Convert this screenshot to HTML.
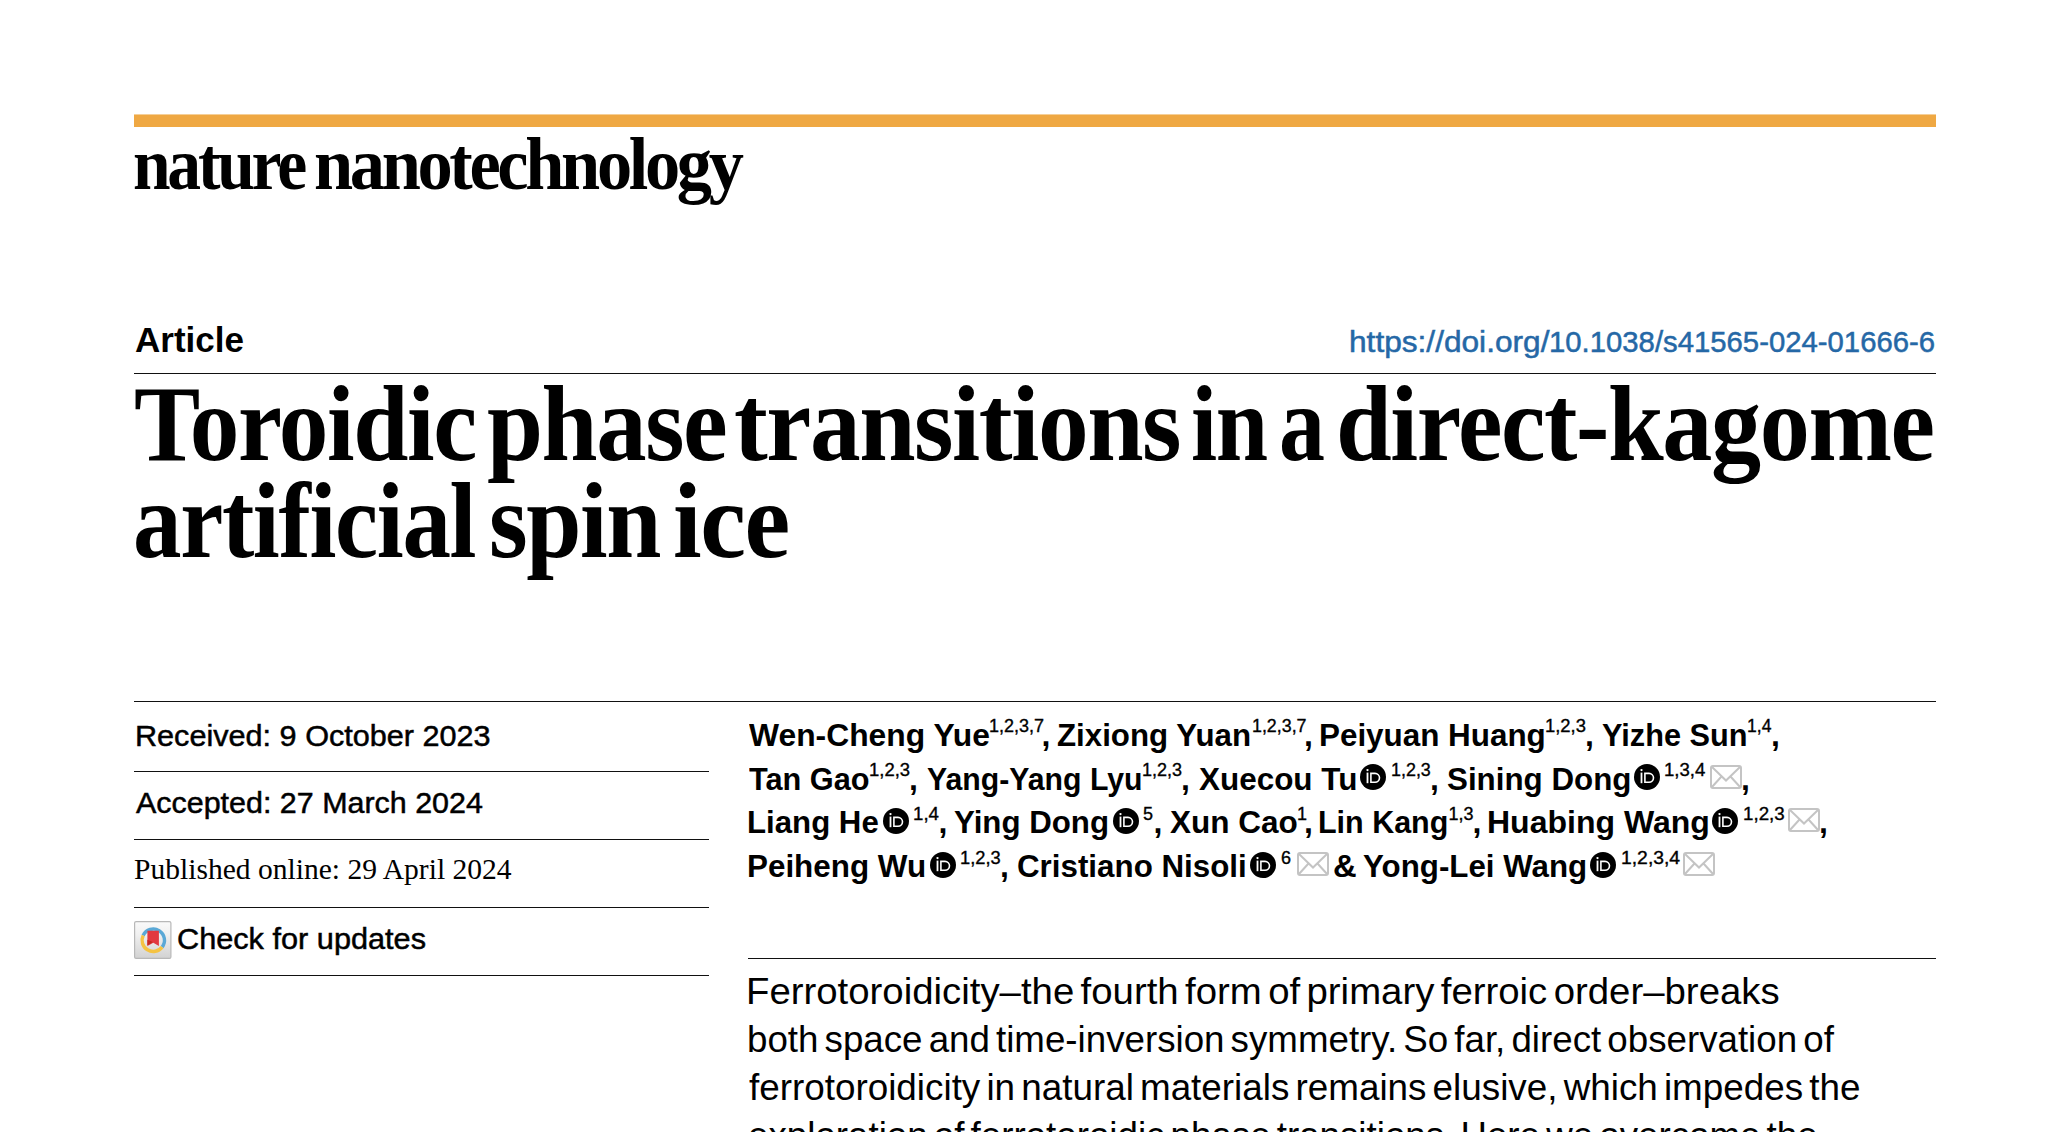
<!DOCTYPE html>
<html>
<head>
<meta charset="utf-8">
<style>
html,body{margin:0;padding:0;background:#fff;}
body{width:2048px;height:1132px;position:relative;overflow:hidden;color:#000;font-family:"Liberation Sans",sans-serif;}
.t{position:absolute;white-space:nowrap;line-height:1;transform-origin:0 0;}
.ic{position:absolute;display:block;}
.rule{position:absolute;height:1px;background:#111;}
#bar{position:absolute;left:134px;top:114px;width:1802px;height:13px;background:linear-gradient(to bottom,#f5cf98 0,#f5cf98 1px,#efa843 1px);}
#chkbox{position:absolute;left:134px;top:921px;width:38px;height:38px;}
</style>
</head>
<body>
<div id="bar"></div>
<div class="rule" style="left:134px;top:373px;width:1802px;"></div>
<div class="rule" style="left:134px;top:701px;width:1802px;"></div>
<div class="rule" style="left:134px;top:771px;width:575px;"></div>
<div class="rule" style="left:134px;top:839px;width:575px;"></div>
<div class="rule" style="left:134px;top:907px;width:575px;"></div>
<div class="rule" style="left:134px;top:975px;width:575px;"></div>
<div class="rule" style="left:748px;top:958px;width:1188px;"></div>
<div id="chkbox"><svg width="38" height="38" viewBox="0 0 38 38" style="position:absolute;left:0;top:0">
<defs><linearGradient id="gg" x1="0" y1="0" x2="0" y2="1"><stop offset="0" stop-color="#fafafa"/><stop offset="0.35" stop-color="#f0f0f0"/><stop offset="1" stop-color="#d2d2d2"/></linearGradient></defs>
<rect x="0.6" y="0.6" width="36.3" height="36.8" rx="1.5" fill="url(#gg)" stroke="#b8b8b8" stroke-width="1.2"/>
<path d="M9.15 14.46 A11.2 11.2 0 1 1 28.13 26.1" fill="none" stroke="#5aa8d6" stroke-width="3.4"/>
<path d="M28.13 26.1 A11.2 11.2 0 0 1 9.15 14.46" fill="none" stroke="#f5c342" stroke-width="3.4"/>
<path d="M13.4 9.8 H24.9 V25 L19.3 21.8 L13.4 25 Z" fill="#e2393f"/>
<path d="M13.4 18.7 L18.7 21 L13.4 24.4 Z" fill="#c4281f"/>
</svg></div>
<div class="t" style="font:bold 74px 'Liberation Serif';letter-spacing:-3.5px;left:133.17px;top:122.00px;transform:scaleX(0.9128);">nature</div>
<div class="t" style="font:bold 74px 'Liberation Serif';letter-spacing:-3.5px;left:314.10px;top:122.00px;transform:scaleX(0.9510);">nanotechnology</div>
<div class="t" style="font:bold 35px 'Liberation Sans';left:135.00px;top:320.00px;">Article</div>
<div class="t" style="font:30px 'Liberation Sans';-webkit-text-stroke:0.5px currentColor;left:1348.89px;top:325.00px;transform:scaleX(1.0543);color:#2568a6;">https://doi.org/</div>
<div class="t" style="font:30px 'Liberation Sans';-webkit-text-stroke:0.5px currentColor;left:1549.25px;top:325.00px;transform:scaleX(0.9766);color:#2568a6;">10.1038/s41565-024-01666-6</div>
<div class="t" style="font:bold 107px 'Liberation Serif';letter-spacing:-1.5px;left:134.15px;top:363.00px;transform:scaleX(0.9274);">Toroidic</div>
<div class="t" style="font:bold 107px 'Liberation Serif';letter-spacing:-1.5px;left:486.56px;top:363.00px;transform:scaleX(0.9413);">phase</div>
<div class="t" style="font:bold 107px 'Liberation Serif';letter-spacing:-1.5px;left:734.11px;top:363.00px;transform:scaleX(0.9472);">transitions</div>
<div class="t" style="font:bold 107px 'Liberation Serif';letter-spacing:-1.5px;left:1190.94px;top:363.00px;transform:scaleX(0.8798);">in</div>
<div class="t" style="font:bold 107px 'Liberation Serif';letter-spacing:-1.5px;left:1278.72px;top:363.00px;transform:scaleX(0.8592);">a</div>
<div class="t" style="font:bold 107px 'Liberation Serif';letter-spacing:-1.5px;left:1335.55px;top:363.00px;transform:scaleX(0.9363);">direct-kagome</div>
<div class="t" style="font:bold 107px 'Liberation Serif';letter-spacing:-1.5px;left:133.28px;top:460.00px;transform:scaleX(0.9072);">artificial</div>
<div class="t" style="font:bold 107px 'Liberation Serif';letter-spacing:-1.5px;left:488.52px;top:460.00px;transform:scaleX(0.9280);">spin</div>
<div class="t" style="font:bold 107px 'Liberation Serif';letter-spacing:-1.5px;left:673.37px;top:460.00px;transform:scaleX(0.9632);">ice</div>
<div class="t" style="font:30px 'Liberation Sans';-webkit-text-stroke:0.5px currentColor;left:134.96px;top:718.50px;transform:scaleX(1.0202);">Received: 9 October 2023</div>
<div class="t" style="font:30px 'Liberation Sans';-webkit-text-stroke:0.5px currentColor;left:136.00px;top:786.40px;transform:scaleX(1.0146);">Accepted: 27 March 2024</div>
<div class="t" style="font:29px 'Liberation Serif';left:133.98px;top:853.40px;transform:scaleX(1.0190);">Published online: 29 April 2024</div>
<div class="t" style="font:30px 'Liberation Sans';-webkit-text-stroke:0.5px currentColor;left:176.98px;top:922.20px;transform:scaleX(1.0227);">Check for updates</div>
<div class="t" style="font:36px 'Liberation Sans';word-spacing:-4px;left:745.80px;top:970.70px;transform:scaleX(1.0652);">Ferrotoroidicity–the fourth form of primary ferroic order–breaks</div>
<div class="t" style="font:36px 'Liberation Sans';word-spacing:-4px;left:746.96px;top:1018.50px;transform:scaleX(1.0197);">both space and time-inversion symmetry. So far, direct observation of</div>
<div class="t" style="font:36px 'Liberation Sans';word-spacing:-4px;left:749.00px;top:1067.20px;transform:scaleX(1.0230);">ferrotoroidicity in natural materials remains elusive, which impedes the</div>
<div class="t" style="font:36px 'Liberation Sans';word-spacing:-4px;left:747.98px;top:1115.30px;transform:scaleX(1.0201);">exploration of ferrotoroidic phase transitions. Here we overcome the</div>
<div class="t" style="font:bold 32px 'Liberation Sans';left:749.00px;top:716.50px;transform:scaleX(0.9942);">Wen-Cheng Yue</div>
<div class="t" style="font:18px 'Liberation Sans';-webkit-text-stroke:0.35px currentColor;left:989.00px;top:715.70px;">1,2,3,7</div>
<div class="t" style="font:bold 32px 'Liberation Sans';left:1041.50px;top:716.50px;">,</div>
<div class="t" style="font:bold 32px 'Liberation Sans';left:1057.02px;top:716.50px;transform:scaleX(0.9770);">Zixiong Yuan</div>
<div class="t" style="font:18px 'Liberation Sans';-webkit-text-stroke:0.35px currentColor;left:1251.51px;top:715.70px;transform:scaleX(0.9907);">1,2,3,7</div>
<div class="t" style="font:bold 32px 'Liberation Sans';left:1304.00px;top:716.50px;">,</div>
<div class="t" style="font:bold 32px 'Liberation Sans';left:1319.34px;top:716.50px;transform:scaleX(0.9811);">Peiyuan Huang</div>
<div class="t" style="font:18px 'Liberation Sans';-webkit-text-stroke:0.35px currentColor;left:1544.58px;top:715.70px;transform:scaleX(1.0231);">1,2,3</div>
<div class="t" style="font:bold 32px 'Liberation Sans';left:1585.00px;top:716.50px;">,</div>
<div class="t" style="font:bold 32px 'Liberation Sans';left:1601.74px;top:716.50px;transform:scaleX(0.9591);">Yizhe Sun</div>
<div class="t" style="font:18px 'Liberation Sans';-webkit-text-stroke:0.35px currentColor;left:1747.03px;top:715.70px;transform:scaleX(0.9750);">1,4</div>
<div class="t" style="font:bold 32px 'Liberation Sans';left:1771.00px;top:716.50px;">,</div>
<div class="t" style="font:bold 32px 'Liberation Sans';left:749.00px;top:760.80px;transform:scaleX(0.9600);">Tan Gao</div>
<div class="t" style="font:18px 'Liberation Sans';-webkit-text-stroke:0.35px currentColor;left:868.97px;top:760.00px;transform:scaleX(1.0256);">1,2,3</div>
<div class="t" style="font:bold 32px 'Liberation Sans';left:909.00px;top:760.80px;">,</div>
<div class="t" style="font:bold 32px 'Liberation Sans';left:926.56px;top:760.80px;transform:scaleX(0.9444);">Yang-Yang Lyu</div>
<div class="t" style="font:18px 'Liberation Sans';-webkit-text-stroke:0.35px currentColor;left:1142.00px;top:760.00px;">1,2,3</div>
<div class="t" style="font:bold 32px 'Liberation Sans';left:1181.00px;top:760.80px;">,</div>
<div class="t" style="font:bold 32px 'Liberation Sans';left:1198.52px;top:760.80px;transform:scaleX(0.9823);">Xuecou Tu</div>
<div class="t" style="font:18px 'Liberation Sans';-webkit-text-stroke:0.35px currentColor;left:1391.01px;top:760.00px;transform:scaleX(0.9949);">1,2,3</div>
<div class="t" style="font:bold 32px 'Liberation Sans';left:1430.00px;top:760.80px;">,</div>
<div class="t" style="font:bold 32px 'Liberation Sans';left:1446.72px;top:760.80px;transform:scaleX(0.9789);">Sining Dong</div>
<div class="t" style="font:18px 'Liberation Sans';-webkit-text-stroke:0.35px currentColor;left:1664.47px;top:760.00px;transform:scaleX(1.0333);">1,3,4</div>
<div class="t" style="font:bold 32px 'Liberation Sans';left:1741.00px;top:760.80px;">,</div>
<div class="t" style="font:bold 32px 'Liberation Sans';left:747.05px;top:804.40px;transform:scaleX(0.9750);">Liang He</div>
<div class="t" style="font:18px 'Liberation Sans';-webkit-text-stroke:0.35px currentColor;left:913.26px;top:803.60px;transform:scaleX(1.0375);">1,4</div>
<div class="t" style="font:bold 32px 'Liberation Sans';left:938.50px;top:804.40px;">,</div>
<div class="t" style="font:bold 32px 'Liberation Sans';left:954.42px;top:804.40px;transform:scaleX(0.9763);">Ying Dong</div>
<div class="t" style="font:18px 'Liberation Sans';-webkit-text-stroke:0.35px currentColor;left:1143.00px;top:803.60px;">5</div>
<div class="t" style="font:bold 32px 'Liberation Sans';left:1153.50px;top:804.40px;">,</div>
<div class="t" style="font:bold 32px 'Liberation Sans';left:1169.72px;top:804.40px;transform:scaleX(0.9844);">Xun Cao</div>
<div class="t" style="font:18px 'Liberation Sans';-webkit-text-stroke:0.35px currentColor;left:1297.00px;top:803.60px;">1</div>
<div class="t" style="font:bold 32px 'Liberation Sans';left:1304.00px;top:804.40px;">,</div>
<div class="t" style="font:bold 32px 'Liberation Sans';left:1318.40px;top:804.40px;transform:scaleX(0.9519);">Lin Kang</div>
<div class="t" style="font:18px 'Liberation Sans';-webkit-text-stroke:0.35px currentColor;left:1448.40px;top:803.60px;">1,3</div>
<div class="t" style="font:bold 32px 'Liberation Sans';left:1472.50px;top:804.40px;">,</div>
<div class="t" style="font:bold 32px 'Liberation Sans';left:1487.00px;top:804.40px;">Huabing Wang</div>
<div class="t" style="font:18px 'Liberation Sans';-webkit-text-stroke:0.35px currentColor;left:1742.76px;top:803.60px;transform:scaleX(1.0410);">1,2,3</div>
<div class="t" style="font:bold 32px 'Liberation Sans';left:1819.00px;top:804.40px;">,</div>
<div class="t" style="font:bold 32px 'Liberation Sans';left:747.04px;top:848.30px;transform:scaleX(0.9810);">Peiheng Wu</div>
<div class="t" style="font:18px 'Liberation Sans';-webkit-text-stroke:0.35px currentColor;left:960.18px;top:847.50px;transform:scaleX(1.0154);">1,2,3</div>
<div class="t" style="font:bold 32px 'Liberation Sans';left:1000.00px;top:848.30px;">,</div>
<div class="t" style="font:bold 32px 'Liberation Sans';left:1017.32px;top:848.30px;transform:scaleX(0.9789);">Cristiano Nisoli</div>
<div class="t" style="font:18px 'Liberation Sans';-webkit-text-stroke:0.35px currentColor;left:1281.00px;top:847.50px;">6</div>
<div class="t" style="font:bold 32px 'Liberation Sans';left:1333.48px;top:848.30px;transform:scaleX(1.0238);">&amp;</div>
<div class="t" style="font:bold 32px 'Liberation Sans';left:1363.02px;top:848.30px;transform:scaleX(0.9779);">Yong-Lei Wang</div>
<div class="t" style="font:18px 'Liberation Sans';-webkit-text-stroke:0.35px currentColor;left:1620.93px;top:847.50px;transform:scaleX(1.0741);">1,2,3,4</div>
<svg class="ic" style="left:1359.9px;top:764.0px" width="26" height="26" viewBox="0 0 26 26"><circle cx="13" cy="13" r="13" fill="#000"/><rect x="6.6" y="8.6" width="1.8" height="10.6" fill="#fff"/><circle cx="7.5" cy="6.1" r="1.15" fill="#fff"/><path d="M10.9 9.4H15A4.5 4.45 0 0 1 15 18.3H10.9Z" fill="none" stroke="#fff" stroke-width="1.6"/></svg>
<svg class="ic" style="left:1633.6px;top:764.0px" width="26" height="26" viewBox="0 0 26 26"><circle cx="13" cy="13" r="13" fill="#000"/><rect x="6.6" y="8.6" width="1.8" height="10.6" fill="#fff"/><circle cx="7.5" cy="6.1" r="1.15" fill="#fff"/><path d="M10.9 9.4H15A4.5 4.45 0 0 1 15 18.3H10.9Z" fill="none" stroke="#fff" stroke-width="1.6"/></svg>
<svg class="ic" style="left:1710.2px;top:764.8px" width="32" height="24" viewBox="0 0 32 24"><rect x="1" y="1" width="30" height="22" rx="2" fill="none" stroke="#c4c4c4" stroke-width="2"/><path d="M1.5 1.5L16 15.5L30.5 1.5M1.5 22.5L11.5 11.5M30.5 22.5L20.5 11.5" fill="none" stroke="#c4c4c4" stroke-width="2"/></svg>
<svg class="ic" style="left:883.0px;top:807.6px" width="26" height="26" viewBox="0 0 26 26"><circle cx="13" cy="13" r="13" fill="#000"/><rect x="6.6" y="8.6" width="1.8" height="10.6" fill="#fff"/><circle cx="7.5" cy="6.1" r="1.15" fill="#fff"/><path d="M10.9 9.4H15A4.5 4.45 0 0 1 15 18.3H10.9Z" fill="none" stroke="#fff" stroke-width="1.6"/></svg>
<svg class="ic" style="left:1113.0px;top:807.6px" width="26" height="26" viewBox="0 0 26 26"><circle cx="13" cy="13" r="13" fill="#000"/><rect x="6.6" y="8.6" width="1.8" height="10.6" fill="#fff"/><circle cx="7.5" cy="6.1" r="1.15" fill="#fff"/><path d="M10.9 9.4H15A4.5 4.45 0 0 1 15 18.3H10.9Z" fill="none" stroke="#fff" stroke-width="1.6"/></svg>
<svg class="ic" style="left:1712.4px;top:807.6px" width="26" height="26" viewBox="0 0 26 26"><circle cx="13" cy="13" r="13" fill="#000"/><rect x="6.6" y="8.6" width="1.8" height="10.6" fill="#fff"/><circle cx="7.5" cy="6.1" r="1.15" fill="#fff"/><path d="M10.9 9.4H15A4.5 4.45 0 0 1 15 18.3H10.9Z" fill="none" stroke="#fff" stroke-width="1.6"/></svg>
<svg class="ic" style="left:1788.3px;top:808.4px" width="32" height="24" viewBox="0 0 32 24"><rect x="1" y="1" width="30" height="22" rx="2" fill="none" stroke="#c4c4c4" stroke-width="2"/><path d="M1.5 1.5L16 15.5L30.5 1.5M1.5 22.5L11.5 11.5M30.5 22.5L20.5 11.5" fill="none" stroke="#c4c4c4" stroke-width="2"/></svg>
<svg class="ic" style="left:929.8px;top:851.5px" width="26" height="26" viewBox="0 0 26 26"><circle cx="13" cy="13" r="13" fill="#000"/><rect x="6.6" y="8.6" width="1.8" height="10.6" fill="#fff"/><circle cx="7.5" cy="6.1" r="1.15" fill="#fff"/><path d="M10.9 9.4H15A4.5 4.45 0 0 1 15 18.3H10.9Z" fill="none" stroke="#fff" stroke-width="1.6"/></svg>
<svg class="ic" style="left:1249.8px;top:851.5px" width="26" height="26" viewBox="0 0 26 26"><circle cx="13" cy="13" r="13" fill="#000"/><rect x="6.6" y="8.6" width="1.8" height="10.6" fill="#fff"/><circle cx="7.5" cy="6.1" r="1.15" fill="#fff"/><path d="M10.9 9.4H15A4.5 4.45 0 0 1 15 18.3H10.9Z" fill="none" stroke="#fff" stroke-width="1.6"/></svg>
<svg class="ic" style="left:1296.7px;top:852.3px" width="32" height="24" viewBox="0 0 32 24"><rect x="1" y="1" width="30" height="22" rx="2" fill="none" stroke="#c4c4c4" stroke-width="2"/><path d="M1.5 1.5L16 15.5L30.5 1.5M1.5 22.5L11.5 11.5M30.5 22.5L20.5 11.5" fill="none" stroke="#c4c4c4" stroke-width="2"/></svg>
<svg class="ic" style="left:1590.0px;top:851.5px" width="26" height="26" viewBox="0 0 26 26"><circle cx="13" cy="13" r="13" fill="#000"/><rect x="6.6" y="8.6" width="1.8" height="10.6" fill="#fff"/><circle cx="7.5" cy="6.1" r="1.15" fill="#fff"/><path d="M10.9 9.4H15A4.5 4.45 0 0 1 15 18.3H10.9Z" fill="none" stroke="#fff" stroke-width="1.6"/></svg>
<svg class="ic" style="left:1683.3px;top:852.3px" width="32" height="24" viewBox="0 0 32 24"><rect x="1" y="1" width="30" height="22" rx="2" fill="none" stroke="#c4c4c4" stroke-width="2"/><path d="M1.5 1.5L16 15.5L30.5 1.5M1.5 22.5L11.5 11.5M30.5 22.5L20.5 11.5" fill="none" stroke="#c4c4c4" stroke-width="2"/></svg>
</body>
</html>
